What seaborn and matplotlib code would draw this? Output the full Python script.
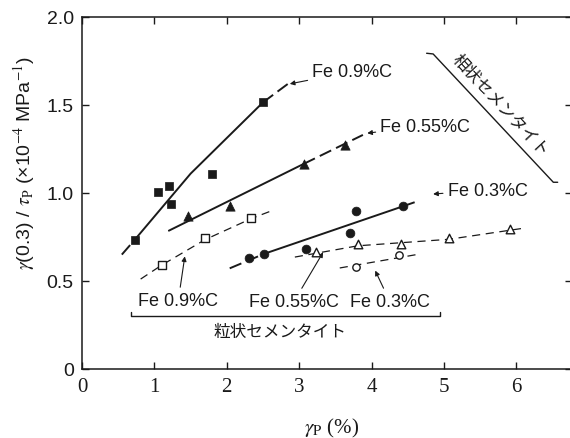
import matplotlib
matplotlib.use("Agg")
import matplotlib.pyplot as plt
import seaborn as sns

# ==========================================
# Data
# ==========================================

# lamellar cementite (filled markers)
lam09_x = [0.73, 1.05, 1.20, 1.23, 1.79, 2.50]
lam09_y = [0.735, 1.004, 1.041, 0.936, 1.108, 1.515]
lam055_x = [1.47, 2.05, 3.06, 3.63]
lam055_y = [0.871, 0.924, 1.165, 1.274]
lam03_x = [2.30, 2.52, 3.09, 3.70, 3.79, 4.43]
lam03_y = [0.629, 0.653, 0.682, 0.773, 0.898, 0.924]

# spheroidal cementite (open markers)
sph09_x = [1.10, 1.70, 2.34]
sph09_y = [0.593, 0.746, 0.860]
sph055_x = [3.23, 3.81, 4.41, 5.07, 5.91]
sph055_y = [0.663, 0.710, 0.710, 0.742, 0.795]
sph03_x = [3.79, 4.38]
sph03_y = [0.581, 0.648]

# hand-drawn trend lines
fit09_solid_x, fit09_solid_y = [0.73, 1.50, 2.50], [0.735, 1.11, 1.515]
fit09_lo_x, fit09_lo_y = [0.55, 0.73], [0.65, 0.735]
fit09_hi_x, fit09_hi_y = [2.50, 2.86], [1.515, 1.625]
fit055_solid_x, fit055_solid_y = [1.20, 3.06], [0.786, 1.165]
fit055_hi_x, fit055_hi_y = [3.06, 3.88], [1.165, 1.33]
fit03_lo_x, fit03_lo_y = [2.04, 2.52], [0.572, 0.655]
fit03_solid_x, fit03_solid_y = [2.52, 4.43], [0.655, 0.924]
fit03_hi_x, fit03_hi_y = [4.43, 4.66], [0.924, 0.957]

sfit09_x, sfit09_y = [0.81, 1.10, 1.70, 2.34, 2.60], [0.511, 0.59, 0.735, 0.855, 0.896]
sfit055_x, sfit055_y = [2.94, 3.81, 5.07, 6.10], [0.636, 0.70, 0.737, 0.80]
sfit03_x, sfit03_y = [3.56, 4.62], [0.574, 0.650]

# labels
top_labels = ["Fe 0.9%C", "Fe 0.55%C", "Fe 0.3%C"]
top_tips = [(2.87, 1.62), (3.94, 1.34), (4.85, 0.994)]
top_text = [(3.18, 1.69), (4.12, 1.38), (5.05, 1.017)]

bot_labels = ["Fe 0.9%C", "Fe 0.55%C", "Fe 0.3%C"]
bot_tips = [(1.42, 0.64), (3.33, 0.663), (4.05, 0.559)]
bot_text = [(1.33, 0.39), (2.93, 0.385), (4.25, 0.385)]

x_ticks = [0, 1, 2, 3, 4, 5, 6]
y_ticks = [0, 0.5, 1.0, 1.5, 2.0]
y_ticklabels = ["0", "0.5", "1.0", "1.5", "2.0"]

spher_label = "粒状セメンタイト"
lamel_label = "相状セメンタイト"

# ==========================================
# Style
# ==========================================

sns.set_style("ticks")
plt.rcParams["font.family"] = ["Liberation Sans", "Noto Sans CJK JP", "DejaVu Sans"]
plt.rcParams["mathtext.fontset"] = "stix"
ink = "#1a1a1a"

fig = plt.figure(figsize=(5.7, 4.39), dpi=100)
ax = fig.add_axes([82 / 570, 69 / 439, 490 / 570, 352 / 439])

# ==========================================
# Lines
# ==========================================

solid = dict(color=ink, lw=1.4, sort=False, estimator=None, ax=ax)
long_dash = dict(color=ink, lw=1.4, sort=False, estimator=None, ax=ax,
                 linestyle=(0, (6.5, 2.8)))
short_dash = dict(color=ink, lw=0.9, sort=False, estimator=None, ax=ax,
                  linestyle=(0, (6.5, 4.5)))

sns.lineplot(x=fit09_solid_x, y=fit09_solid_y, **solid)
sns.lineplot(x=fit09_lo_x, y=fit09_lo_y, **long_dash)
sns.lineplot(x=fit09_hi_x, y=fit09_hi_y, **long_dash)
sns.lineplot(x=fit055_solid_x, y=fit055_solid_y, **solid)
sns.lineplot(x=fit055_hi_x, y=fit055_hi_y, **long_dash)
sns.lineplot(x=fit03_lo_x, y=fit03_lo_y, **long_dash)
sns.lineplot(x=fit03_solid_x, y=fit03_solid_y, **solid)
sns.lineplot(x=fit03_hi_x, y=fit03_hi_y, **long_dash)

sns.lineplot(x=sfit09_x, y=sfit09_y, **short_dash)
sns.lineplot(x=sfit055_x, y=sfit055_y, **short_dash)
sns.lineplot(x=sfit03_x, y=sfit03_y, **short_dash)

# ==========================================
# Markers
# ==========================================

sns.scatterplot(x=lam09_x, y=lam09_y, marker="s", s=38, color=ink, edgecolor=ink, linewidth=0.5, ax=ax, zorder=5)
sns.scatterplot(x=lam055_x, y=lam055_y, marker="^", s=45, color=ink, edgecolor=ink, linewidth=0.5, ax=ax, zorder=5)
sns.scatterplot(x=lam03_x, y=lam03_y, marker="o", s=40, color=ink, edgecolor=ink, linewidth=0.5, ax=ax, zorder=5)

sns.scatterplot(x=sph09_x, y=sph09_y, marker="s", s=30, facecolor="white", edgecolor=ink, linewidth=1.0, ax=ax, zorder=5)
sns.scatterplot(x=sph055_x, y=sph055_y, marker="^", s=38, facecolor="white", edgecolor=ink, linewidth=1.0, ax=ax, zorder=5)
sns.scatterplot(x=sph03_x, y=sph03_y, marker="o", s=28, facecolor="white", edgecolor=ink, linewidth=1.0, ax=ax, zorder=5)

# ==========================================
# Annotations
# ==========================================

arrow = dict(arrowstyle="-|>", color=ink, lw=0.8, mutation_scale=7, shrinkA=1, shrinkB=0)

for lab, tip, txt in zip(top_labels, top_tips, top_text):
    ax.annotate(lab, xy=tip, xytext=txt, ha="left", va="center",
                fontsize=13, color=ink, arrowprops=arrow)

for lab, tip, txt in zip(bot_labels, bot_tips, bot_text):
    ax.annotate(lab, xy=tip, xytext=txt, ha="center", va="center",
                fontsize=13, color=ink, arrowprops=arrow)

# spheroidal bracket
ax.plot([0.68, 0.68, 4.94, 4.94], [0.325, 0.303, 0.303, 0.322], color=ink, lw=1.0)
ax.text(2.73, 0.215, spher_label, ha="center", va="center", fontsize=12, color=ink)

# lamellar bracket
ax.plot([4.76, 4.85, 6.51, 6.57], [1.794, 1.79, 1.061, 1.061], color=ink, lw=1.0)
ax.text(5.77, 1.50, lamel_label, ha="center", va="center", fontsize=12,
        color=ink, rotation=-47, rotation_mode="anchor")

# ==========================================
# Axes
# ==========================================

ax.set_xlim(0, 490 / 72.4)
ax.set_ylim(0, 2.0)

ax.set_xticks(x_ticks)
ax.set_xticklabels([str(t) for t in x_ticks], fontsize=15, family="Liberation Serif", color=ink)
ax.set_yticks(y_ticks)
ax.set_yticklabels(y_ticklabels, fontsize=14, color=ink)

ax.tick_params(direction="in", top=True, right=True, length=5, width=1.0, colors=ink)
ax.tick_params(axis="x", pad=6)
ax.tick_params(axis="y", pad=6)
for sp in ax.spines.values():
    sp.set_visible(True)
    sp.set_linewidth(1.1)
    sp.set_color(ink)

fig.text(332 / 570, 11 / 439, r"$\gamma_{\rm P}$ (%)", ha="center", va="center",
         fontsize=15, family="Liberation Serif", color=ink)
fig.text(24 / 570, (439 - 163) / 439,
         r"$\gamma$(0.3) / $\tau_{\rm P}$ (×10$^{-4}$ MPa$^{-1}$)",
         rotation=90, ha="center", va="center", fontsize=14, color=ink)

# ==========================================
# Save
# ==========================================

fig.savefig("out.png", dpi=100)
